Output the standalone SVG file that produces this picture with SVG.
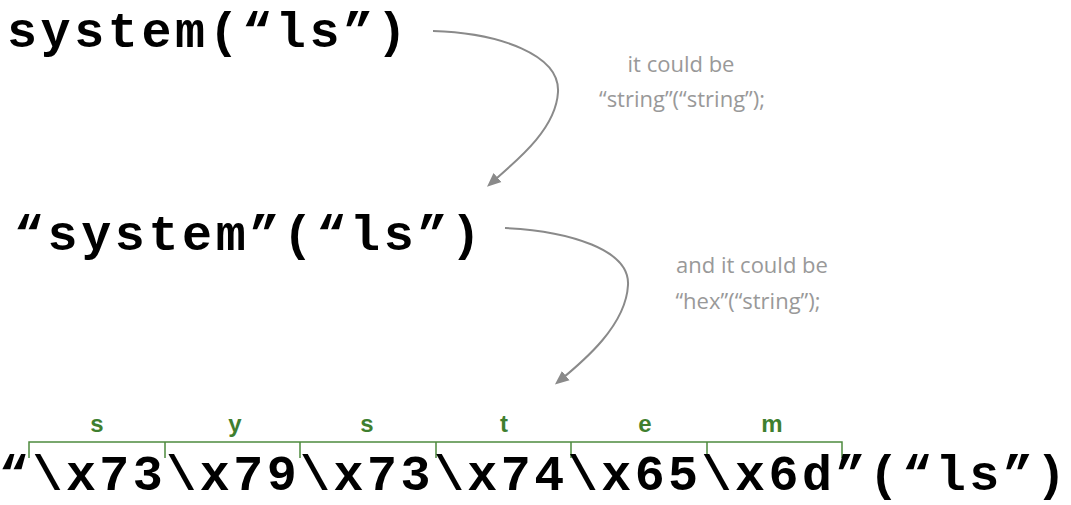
<svg xmlns="http://www.w3.org/2000/svg" width="1071" height="505" viewBox="0 0 1071 505">
<style>
.code{font-family:"Liberation Mono","Courier New",monospace;font-weight:bold;font-size:50px;letter-spacing:3.6px;fill:#000}
.note{font-family:"Open Sans","Noto Sans",sans-serif;font-size:22px;fill:#999;text-anchor:middle}
.lbl{font-family:"Liberation Sans",Arial,sans-serif;font-weight:bold;font-size:24px;fill:#3f7f2f;text-anchor:middle}
.conn{fill:none;stroke:#8a8a8a;stroke-width:2}
.br{fill:none;stroke:#4e8a3e;stroke-width:1.5}
</style>
<defs>
<marker id="ah" markerWidth="14" markerHeight="14" refX="10" refY="6" orient="auto" markerUnits="userSpaceOnUse" viewBox="0 0 14 12">
<path d="M0,0 L14,6 L0,12 Z" fill="#8a8a8a"/>
</marker>
</defs>
<g id="connectors">
<path class="conn" d="M433,31 C500,33 560,55 558,92 C556,130 515,162 490,184" marker-end="url(#ah)"/>
<path class="conn" d="M505,228 C570,231 630,250 628,285 C626,325 585,360 558,382" marker-end="url(#ah)"/>
</g>
<g id="node-system">
<text class="code" x="7" y="47">system(“ls”)</text>
</g>
<g id="note1">
<text class="note" x="681" y="72">it could be</text>
<text class="note" x="682" y="107">“string”(“string”);</text>
</g>
<g id="node-string-system">
<text class="code" x="14" y="250">“system”(“ls”)</text>
</g>
<g id="note2">
<text class="note" x="752" y="273">and it could be</text>
<text class="note" x="748" y="309">“hex”(“string”);</text>
</g>
<g id="node-hex">
<path class="br" d="M29,458 V442 H842 V458 M165,442 V458 M300,442 V458 M436,442 V458 M571,442 V458 M707,442 V458"/>
<text class="lbl" x="97" y="432">s</text>
<text class="lbl" x="235" y="432">y</text>
<text class="lbl" x="367" y="432">s</text>
<text class="lbl" x="504" y="432">t</text>
<text class="lbl" x="645" y="432">e</text>
<text class="lbl" x="772" y="432">m</text>
<text class="code" x="-1" y="490" style="letter-spacing:3.45px">“\x73\x79\x73\x74\x65\x6d”(“ls”)</text>
</g>
</svg>
